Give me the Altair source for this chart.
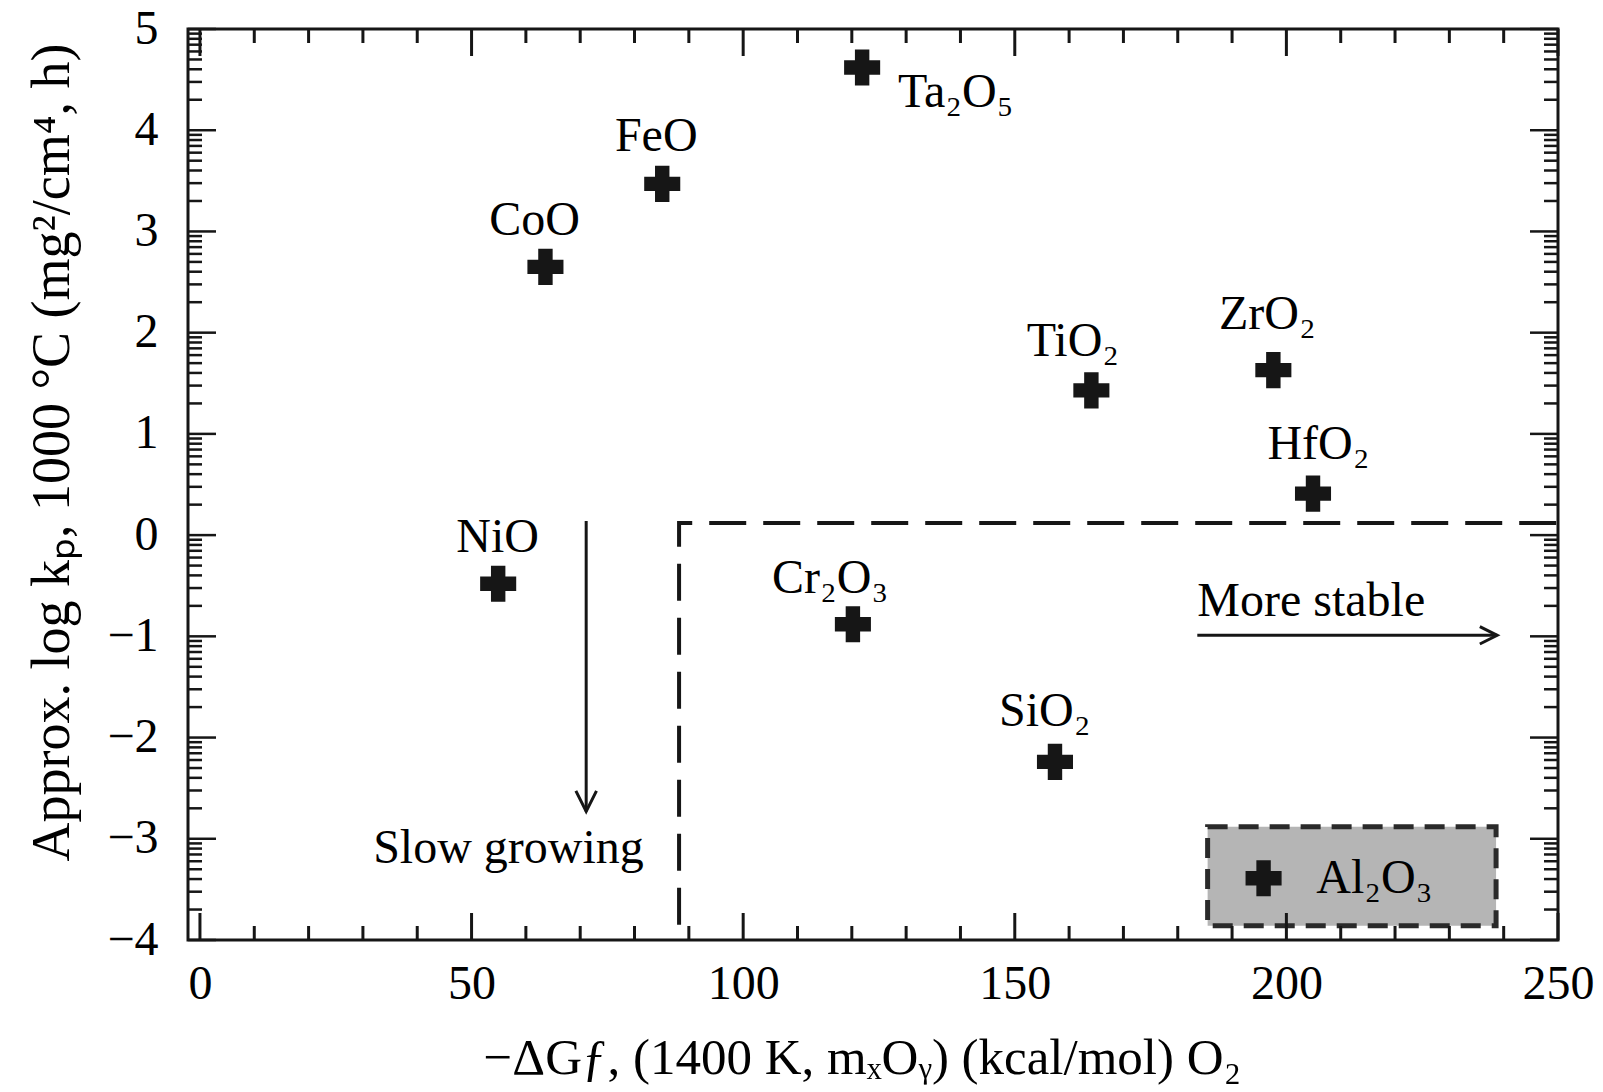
import altair as alt
import pandas as pd
import numpy as np

# ---- data ----
oxides = ["Ta₂O₅", "FeO", "CoO", "TiO₂", "ZrO₂", "HfO₂", "NiO", "Cr₂O₃", "SiO₂", "Al₂O₃"]
dG = [121.9, 85.1, 63.6, 164.1, 197.6, 204.9, 54.9, 120.2, 157.4, 195.8]
logkp = [4.62, 3.47, 2.65, 1.43, 1.63, 0.41, -0.48, -0.88, -2.24, -3.39]
label_x = [128.5, 84.0, 61.6, 160.7, 196.5, 205.9, 54.8, 116.0, 155.5, 205.5]
label_y = [4.37, 3.93, 3.10, 1.91, 2.17, 0.89, -0.03, -0.43, -1.75, -3.40]
label_side = ["right", "above", "above", "above", "above", "above", "above", "above", "above", "right"]

x_ticks = [0, 50, 100, 150, 200, 250]
x_minor = [v for v in range(0, 251, 10) if v % 50]
y_ticks = list(range(-4, 6))
y_minor = [round(n + np.log10(k), 4) for n in range(-4, 5) for k in range(2, 10)]

slow_arrow_x = [71.1, 71.1]
slow_arrow_y = [0.14, -2.73]
stable_arrow_x = [183.6, 238.8]
stable_arrow_y = [-0.99, -0.99]
region_x = [88.2, 88.2, 250.0]
region_y = [-3.85, 0.12, 0.12]
box_x = [185.5, 238.6]
box_y = [-2.88, -3.86]
notes = ["Slow growing", "More stable"]
note_x = [56.8, 183.6]
note_y = [-3.10, -0.66]

x_title = "−ΔGƒ, (1400 K, mₓOᵧ) (kcal/mol) O₂"
y_title = "Approx. log kₚ, 1000 °C (mg²/cm⁴, h)"

# ---- layout ----
W, H = 1370, 911
FONT = "Liberation Serif"
INK = "#161616"
xs = alt.Scale(domain=[-2.2, 250], nice=False, zero=False)
ys = alt.Scale(domain=[-4, 5], nice=False, zero=False)

X_AXIS = alt.Axis(
    values=x_ticks, title=x_title, ticks=False, domain=False, grid=False,
    labelFontSize=48, labelFont=FONT, labelColor="black", labelPadding=20,
    labelFlush=False, labelOverlap=False,
    titleFont=FONT, titleFontSize=51, titleFontWeight="normal", titleColor="black",
    titleX=674, titleY=133, titleBaseline="alphabetic")
Y_AXIS = alt.Axis(
    values=y_ticks, title=y_title, ticks=False, domain=False, grid=False,
    labelFontSize=48, labelFont=FONT, labelColor="black", labelPadding=30,
    labelFlush=False, labelOverlap=False,
    titleFont=FONT, titleFontSize=54, titleFontWeight="normal", titleColor="black",
    titleAngle=270, titleX=-120, titleY=423, titleBaseline="alphabetic")


def X(field):
    return alt.X(field, scale=xs, axis=X_AXIS, title=x_title)


def Y(field):
    return alt.Y(field, scale=ys, axis=Y_AXIS, title=y_title)


pts = pd.DataFrame({"oxide": oxides, "dG": dG, "logkp": logkp,
                    "lx": label_x, "ly": label_y, "side": label_side})

plus = "M-0.4,-1H0.4V-0.4H1V0.4H0.4V1H-0.4V0.4H-1V-0.4H-0.4Z"

# gray Al2O3 box
box = alt.Chart(pd.DataFrame({"x": [box_x[0]], "x2": [box_x[1]], "y": [box_y[0]], "y2": [box_y[1]]})).mark_rect(
    fill="#b5b5b5", stroke="#2a2a2a", strokeWidth=5, strokeDash=[20, 11]
).encode(x=X("x:Q"), x2="x2:Q", y=Y("y:Q"), y2="y2:Q")

# dashed L-shaped boundary
region = alt.Chart(pd.DataFrame({"x": region_x, "y": region_y, "o": list(range(len(region_x)))})).mark_line(
    color=INK, strokeWidth=4, strokeDash=[37, 17]
).encode(x=X("x:Q"), y=Y("y:Q"), order="o:Q")

# arrows
arrows = pd.DataFrame({"x": [slow_arrow_x[0], stable_arrow_x[0]], "x2": [slow_arrow_x[1], stable_arrow_x[1]],
                       "y": [slow_arrow_y[0], stable_arrow_y[0]], "y2": [slow_arrow_y[1], stable_arrow_y[1]]})
arrow_lines = alt.Chart(arrows).mark_rule(color=INK, strokeWidth=3).encode(
    x=X("x:Q"), x2="x2:Q", y=Y("y:Q"), y2="y2:Q")
head_down = alt.Chart(pd.DataFrame({"x": [slow_arrow_x[1]], "y": [slow_arrow_y[1]]})).mark_point(
    shape="M-0.5,-1L0,0L0.5,-1", filled=False, stroke=INK, strokeWidth=3, size=1700, opacity=1
).encode(x=X("x:Q"), y=Y("y:Q"))
head_right = alt.Chart(pd.DataFrame({"x": [stable_arrow_x[1]], "y": [stable_arrow_y[1]]})).mark_point(
    shape="M-1,-0.5L0,0L-1,0.5", filled=False, stroke=INK, strokeWidth=3, size=1200, opacity=1
).encode(x=X("x:Q"), y=Y("y:Q"))

# markers
markers = alt.Chart(pts).mark_point(
    shape=plus, filled=True, color=INK, size=1300, opacity=1
).encode(x=X("dG:Q"), y=Y("logkp:Q"))

# labels
lab_above = alt.Chart(pts).transform_filter(alt.datum.side == "above").mark_text(
    font=FONT, fontSize=48, color="black", align="center", baseline="middle"
).encode(x=X("lx:Q"), y=Y("ly:Q"), text="oxide:N")
lab_right = alt.Chart(pts).transform_filter(alt.datum.side == "right").mark_text(
    font=FONT, fontSize=48, color="black", align="left", baseline="middle"
).encode(x=X("lx:Q"), y=Y("ly:Q"), text="oxide:N")

note_df = pd.DataFrame({"t": notes, "x": note_x, "y": note_y})
note_slow = alt.Chart(note_df.iloc[[0]]).mark_text(
    font=FONT, fontSize=48, color="black", align="center", baseline="middle"
).encode(x=X("x:Q"), y=Y("y:Q"), text="t:N")
note_stable = alt.Chart(note_df.iloc[[1]]).mark_text(
    font=FONT, fontSize=48, color="black", align="left", baseline="middle"
).encode(x=X("x:Q"), y=Y("y:Q"), text="t:N")


# inward tick marks on all four sides
def xtick_layer(vals, length, top):
    df = pd.DataFrame({"v": vals})
    if top:
        yy, yy2 = alt.value(0), alt.value(length)
    else:
        yy, yy2 = alt.value(H), alt.value(H - length)
    return alt.Chart(df).mark_rule(color=INK, strokeWidth=3).encode(x=X("v:Q"), y=yy, y2=yy2)


def ytick_layer(vals, length, right):
    df = pd.DataFrame({"v": vals})
    if right:
        xx, xx2 = alt.value(W), alt.value(W - length)
    else:
        xx, xx2 = alt.value(0), alt.value(length)
    return alt.Chart(df).mark_rule(color=INK, strokeWidth=2.5).encode(y=Y("v:Q"), x=xx, x2=xx2)


ticks = [
    xtick_layer(x_ticks, 27, False), xtick_layer(x_minor, 14, False),
    xtick_layer(x_ticks, 27, True), xtick_layer(x_minor, 14, True),
    ytick_layer(y_ticks, 28, False), ytick_layer(y_minor, 14, False),
    ytick_layer(y_ticks, 28, True), ytick_layer(y_minor, 14, True),
]

chart = alt.layer(
    box, region, arrow_lines, head_down, head_right, *ticks, markers, lab_above, lab_right, note_slow, note_stable
).properties(
    width=W, height=H,
    autosize=alt.AutoSizeParams(type="none"),
    padding={"left": 188, "top": 29, "right": 45, "bottom": 152},
    background="white",
).configure_view(stroke=INK, strokeWidth=3)

chart.save("out.html", embed_options={"renderer": "svg", "actions": False})
